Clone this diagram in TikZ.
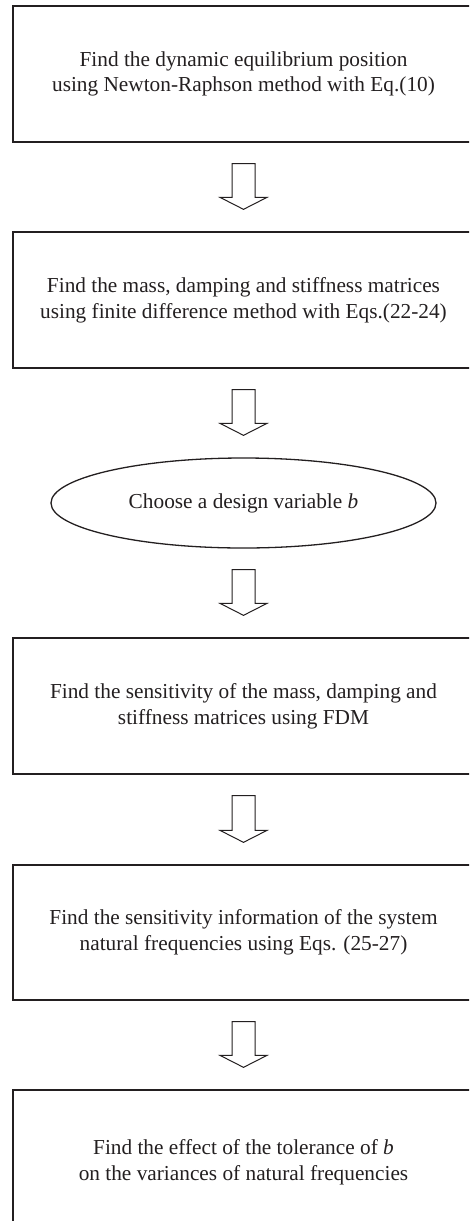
\documentclass[tikz,border=0pt]{standalone}
\usepackage{fontspec}
\setmainfont{Liberation Serif}
\usetikzlibrary{shapes.geometric,calc}
\definecolor{ink}{HTML}{231F20}
\tikzset{
  stepbox/.style={draw=ink, line width=1.3pt, rectangle, minimum width=461pt, inner sep=0pt, align=center, text=ink, font=\fontsize{21.3}{25.6}\selectfont},
  choicebox/.style={draw=ink, line width=1.3pt, ellipse, minimum width=385pt, minimum height=90pt, inner sep=0pt, align=center, text=ink, font=\fontsize{21.3}{25.6}\selectfont},
  arrowline/.style={draw=ink, line width=1pt, fill=white, line join=miter}
}
\newcommand{\flowarr}[2]{%
  \path[arrowline] let \p1=(#1.south), \p2=(#2.north) in
    (\x1-11.5pt,\y1-21pt) -- (\x1+11.5pt,\y1-21pt) -- (\x1+11.5pt,\y2+34pt) --
    (\x1+23.5pt,\y2+34pt) -- (\x1,\y2+22pt) -- (\x1-23.5pt,\y2+34pt) --
    (\x1-11.5pt,\y2+34pt) -- cycle;}
\begin{document}
\begin{tikzpicture}[x=1pt,y=-1pt]
\useasboundingbox (0,0) rectangle (469,1221);
\clip (0,0) rectangle (469,1221);
\node[stepbox, minimum height=136pt] (b1) at (243.5,74) {Find the dynamic equilibrium position\\using Newton-Raphson method with Eq.(10)};
\node[stepbox, minimum height=136pt] (b2) at (243.5,300) {Find the mass, damping and stiffness matrices\\using finite difference method with Eqs.(22-24)};
\node[choicebox] (e1) at (243.5,503) {Choose a design variable \textit{b}};
\node[stepbox, minimum height=136pt] (b3) at (243.5,706) {Find the sensitivity of the mass, damping and\\stiffness matrices using FDM};
\node[stepbox, minimum height=135pt] (b4) at (243.5,932.5) {Find the sensitivity information of the system\\natural frequencies using Eqs. (25-27)};
\node[stepbox, minimum height=144pt] (b5) at (243.5,1162) {Find the effect of the tolerance of \textit{b}\\on the variances of natural frequencies};
\flowarr{b1}{b2}
\flowarr{b2}{e1}
\flowarr{e1}{b3}
\flowarr{b3}{b4}
\flowarr{b4}{b5}
\end{tikzpicture}
\end{document}
